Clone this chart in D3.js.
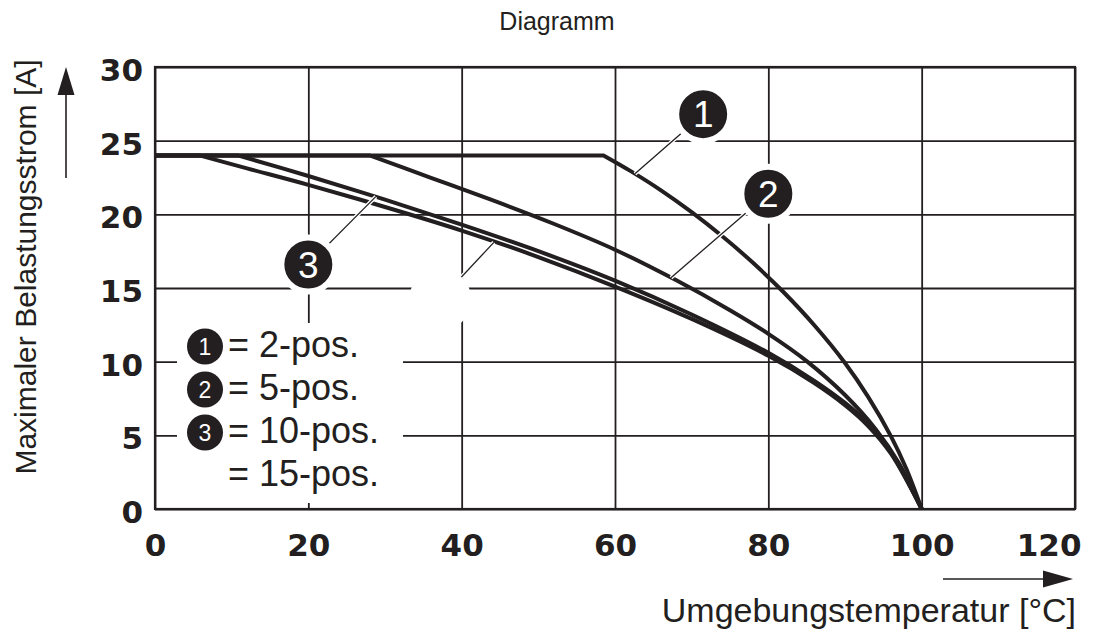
<!DOCTYPE html>
<html>
<head>
<meta charset="utf-8">
<script src="https://cdn.jsdelivr.net/npm/d3@7"></script>
<style>
  body { margin: 0; background: #fff; }
  svg { display: block; }
</style>
</head>
<body>
<div class="container"></div>
<script>
// tick values
const xTicks = [0, 20, 40, 60, 80, 100, 120];
const yTicks = [0, 5, 10, 15, 20, 25, 30];

// derating curves [temperature °C, current A]
const pos2 = [[0, 24], [58.5, 24], [62, 22.95], [66, 21.63], [70, 20.15], [74, 18.51], [78, 16.71], [82, 14.71], [86, 12.47], [90, 9.91], [93, 7.63], [96, 4.93], [98, 2.73], [100, 0]];
const pos5 = [[0, 24], [28, 24], [36, 22.48], [44, 20.96], [52, 19.36], [60, 17.6], [68, 15.52], [75, 13.49], [80, 11.89], [85, 10.04], [90, 7.74], [94, 5.42], [97, 3.14], [100, 0]];
const pos10 = [[0, 24], [10.8, 24], [20, 22.6], [30, 21.0], [40, 19.3], [50, 17.5], [60, 15.5], [70, 13.2], [80, 10.6], [86, 8.7], [90, 7.2], [93, 5.8], [96, 3.85], [100, 0]];
const pos15 = [[0, 24], [5.8, 24], [12, 23.12], [20, 22.0], [30, 20.5], [40, 18.9], [50, 17.1], [60, 15.1], [70, 12.9], [80, 10.4], [86, 8.55], [90, 7.05], [93, 5.65], [96, 3.75], [100, 0]];
const curves = [pos2, pos5, pos10, pos15];

// callouts: label, circle centre, point on curve (last one is a blank, white bubble)
const callouts = [
  { label: "1", at: [71.5, 26.8], hit: [62.6, 22.75] },
  { label: "2", at: [80, 21.4], hit: [67.3, 15.7] },
  { label: "3", at: [20, 16.6], hit: [28.8, 21.2] },
  { label: "", at: [37.2, 14.2], hit: [44.2, 18.1] }
];

const legendNums = ["1", "2", "3", ""];
const legendTexts = ["= 2-pos.", "= 5-pos.", "= 10-pos.", "= 15-pos."];

const ink = "#231f20";
const sans = "'Liberation Sans', Arial, Helvetica, sans-serif";
const heavy = "'DejaVu Sans', 'Liberation Sans', Arial, sans-serif";
const margin = { left: 155, top: 67, right: 31, bottom: 125 };
const fullWidth = 1106;
const fullHeight = 634;
const width = fullWidth - margin.left - margin.right;
const height = fullHeight - margin.top - margin.bottom;

const svg = d3
  .create("svg")
  .attr("width", fullWidth)
  .attr("height", fullHeight)
  .style("font-family", sans);

svg.append("rect").attr("width", fullWidth).attr("height", fullHeight).attr("fill", "#fff");

svg
  .append("text")
  .attr("x", 557)
  .attr("y", 30)
  .attr("text-anchor", "middle")
  .attr("font-size", 25)
  .attr("fill", ink)
  .text("Diagramm");

const g = svg.append("g").attr("transform", `translate(${margin.left},${margin.top})`);

const x = d3.scaleLinear().domain([0, 120]).range([0, width]);
const y = d3.scaleLinear().domain([0, 30]).range([height, 0]);

// grid + tick labels
g.append("g")
  .call(d3.axisLeft(y).tickValues(yTicks).tickSize(-width).tickPadding(12))
  .call((a) => a.select(".domain").remove())
  .call((a) => a.selectAll("line").attr("stroke", ink).attr("stroke-width", 1.8))
  .call((a) =>
    a.selectAll("text")
      .attr("fill", ink)
      .attr("font-size", 31)
      .attr("font-weight", "bold")
      .attr("dy", "0.44em")
      .style("font-family", heavy)
  );

g.append("g")
  .attr("transform", `translate(0,${height})`)
  .call(d3.axisBottom(x).tickValues(xTicks).tickSize(-height).tickPadding(25))
  .call((a) => a.select(".domain").remove())
  .call((a) => a.selectAll("line").attr("stroke", ink).attr("stroke-width", 1.8))
  .call((a) =>
    a.selectAll("text")
      .attr("fill", ink)
      .attr("font-size", 31)
      .attr("font-weight", "bold")
      .style("font-family", heavy)
  )
  // last label sits inside the page edge
  .call((a) =>
    a.selectAll(".tick")
      .filter((d) => d === 120)
      .select("text")
      .attr("text-anchor", "end")
      .attr("x", 6)
  );

g.append("rect")
  .attr("width", width)
  .attr("height", height)
  .attr("fill", "none")
  .attr("stroke", ink)
  .attr("stroke-width", 2.2);

// legend box knocks out the grid
g.append("rect")
  .attr("x", 22)
  .attr("y", 256)
  .attr("width", 226)
  .attr("height", 180)
  .attr("fill", "#fff");

// curves: straight plateau then smooth drop
const line = d3.line().x((d) => x(d[0])).y((d) => y(d[1])).curve(d3.curveCatmullRom.alpha(0.5));
g.append("g")
  .selectAll("path")
  .data(curves)
  .join("path")
  .attr("d", (d) => `M${x(d[0][0])},${y(d[0][1])}` + line(d.slice(1)).replace(/^M/, "L"))
  .attr("fill", "none")
  .attr("stroke", ink)
  .attr("stroke-width", 4);

// leaders
const lead = g.append("g");
lead.selectAll(".halo")
  .data(callouts)
  .join("line")
  .attr("x1", (d) => x(d.hit[0]))
  .attr("y1", (d) => y(d.hit[1]))
  .attr("x2", (d) => x(d.at[0]))
  .attr("y2", (d) => y(d.at[1]))
  .attr("stroke", "#fff")
  .attr("stroke-width", 4);
lead.selectAll(".ink")
  .data(callouts)
  .join("line")
  .attr("x1", (d) => x(d.hit[0]))
  .attr("y1", (d) => y(d.hit[1]))
  .attr("x2", (d) => x(d.at[0]))
  .attr("y2", (d) => y(d.at[1]))
  .attr("stroke", ink)
  .attr("stroke-width", 1.3);

const bubble = g.append("g")
  .selectAll("g")
  .data(callouts)
  .join("g")
  .attr("transform", (d) => `translate(${x(d.at[0])},${y(d.at[1])})`);
bubble.append("circle")
  .attr("r", (d) => (d.label ? 27 : 27.5))
  .attr("fill", (d) => (d.label ? ink : "#fff"))
  .attr("stroke", "#fff")
  .attr("stroke-width", (d) => (d.label ? 6 : 7));
bubble.append("text")
  .attr("text-anchor", "middle")
  .attr("dy", "0.36em")
  .attr("font-size", 37)
  .attr("fill", "#fff")
  .text((d) => d.label);

// legend
const leg = g.append("g")
  .selectAll("g")
  .data(legendTexts)
  .join("g")
  .attr("transform", (d, i) => `translate(0,${290 + i * 43})`);
leg.filter((d, i) => legendNums[i] !== "")
  .append("circle")
  .attr("cx", 50)
  .attr("cy", -10.5)
  .attr("r", 18)
  .attr("fill", ink);
leg.append("text")
  .attr("x", 50)
  .attr("y", -10.5)
  .attr("dy", "0.36em")
  .attr("text-anchor", "middle")
  .attr("font-size", 23)
  .attr("fill", "#fff")
  .text((d, i) => legendNums[i]);
leg.append("text")
  .attr("x", 73)
  .attr("font-size", 36)
  .attr("fill", ink)
  .text((d) => d);

// axis titles with arrows
svg.append("text")
  .attr("transform", "translate(36,267) rotate(-90)")
  .attr("text-anchor", "middle")
  .attr("font-size", 30)
  .attr("fill", ink)
  .text("Maximaler Belastungsstrom [A]");

svg.append("line")
  .attr("x1", 66).attr("y1", 178).attr("x2", 66).attr("y2", 90)
  .attr("stroke", ink).attr("stroke-width", 1.6);
svg.append("path").attr("d", "M66,67 L57.5,95 L74.5,95 Z").attr("fill", ink);

svg.append("text")
  .attr("x", 1076)
  .attr("y", 622)
  .attr("text-anchor", "end")
  .attr("font-size", 34)
  .attr("fill", ink)
  .text("Umgebungstemperatur [°C]");

svg.append("line")
  .attr("x1", 943).attr("y1", 579).attr("x2", 1048).attr("y2", 579)
  .attr("stroke", ink).attr("stroke-width", 1.6);
svg.append("path").attr("d", "M1073,579 L1043,570.5 L1043,587.5 Z").attr("fill", ink);

document.querySelector(".container").append(svg.node());
</script>
</body>
</html>
